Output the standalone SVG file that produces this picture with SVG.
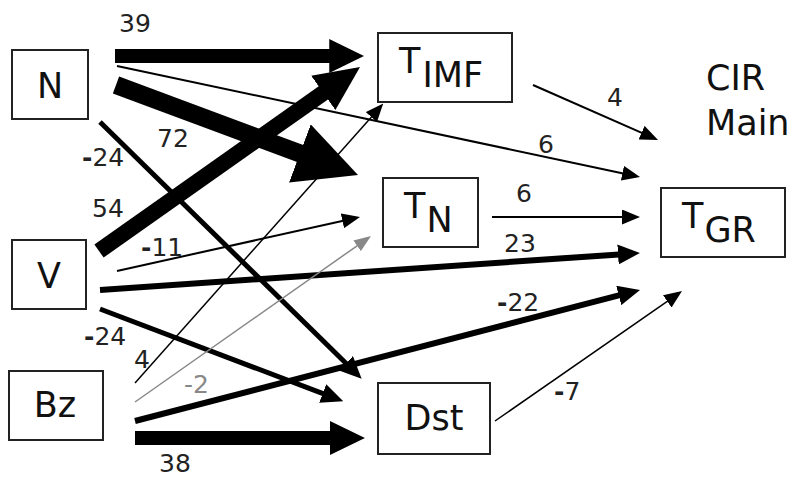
<svg xmlns="http://www.w3.org/2000/svg" width="792" height="478" viewBox="0 0 792 478">
<style>
.box{fill:#fff;stroke:#222;stroke-width:2}
.lbl{font-family:"DejaVu Sans",Verdana,sans-serif;font-size:35px;fill:#111}
.num{font-family:"DejaVu Sans",Verdana,sans-serif;font-size:25px;fill:#222}
.e{stroke:#000;fill:none}
.m{font-weight:bold}
</style>
<defs>
<marker id="as" viewBox="0 0 10 10" refX="0.5" refY="5" markerWidth="18" markerHeight="15" markerUnits="userSpaceOnUse" orient="auto" preserveAspectRatio="none"><path d="M0,0L10,5L0,10z" fill="#000"/></marker>
<marker id="ag" viewBox="0 0 10 10" refX="0.5" refY="5" markerWidth="17" markerHeight="13" markerUnits="userSpaceOnUse" orient="auto" preserveAspectRatio="none"><path d="M0,0L10,5L0,10z" fill="#888"/></marker>
<marker id="am" viewBox="0 0 10 10" refX="0.5" refY="5" markerWidth="22" markerHeight="20" markerUnits="userSpaceOnUse" orient="auto" preserveAspectRatio="none"><path d="M0,0L10,5L0,10z" fill="#000"/></marker>
<marker id="al" viewBox="0 0 10 10" refX="0.5" refY="5" markerWidth="35" markerHeight="34" markerUnits="userSpaceOnUse" orient="auto" preserveAspectRatio="none"><path d="M0,0L10,5L0,10z" fill="#000"/></marker>
<marker id="a54" viewBox="0 0 10 10" refX="0.5" refY="5" markerWidth="45" markerHeight="42" markerUnits="userSpaceOnUse" orient="auto" preserveAspectRatio="none"><path d="M0,0L10,5L0,10z" fill="#000"/></marker>
<marker id="axl" viewBox="0 0 10 10" refX="0.5" refY="5" markerWidth="62" markerHeight="62" markerUnits="userSpaceOnUse" orient="auto" preserveAspectRatio="none"><path d="M0,0L10,5L0,10z" fill="#000"/></marker>
</defs>
<rect width="792" height="478" fill="#fff"/>
<g id="connectors">
<line class="e" x1="115" y1="56" x2="331" y2="56" stroke-width="14" marker-end="url(#al)"/>
<line class="e" x1="117" y1="66" x2="623.3" y2="173.4" stroke-width="2" marker-end="url(#as)"/>
<line class="e" x1="116" y1="85" x2="302.8" y2="154.5" stroke-width="18" marker-end="url(#axl)"/>
<line class="e" x1="100" y1="122" x2="346.7" y2="364" stroke-width="5" marker-end="url(#am)"/>
<line class="e" x1="99" y1="251" x2="325.1" y2="91.6" stroke-width="16" marker-end="url(#a54)"/>
<line class="e" x1="117" y1="271" x2="343.3" y2="220.7" stroke-width="2" marker-end="url(#as)"/>
<line class="e" x1="100" y1="290" x2="619.1" y2="254.4" stroke-width="6" marker-end="url(#am)"/>
<line class="e" x1="100" y1="309" x2="323.7" y2="393.9" stroke-width="5" marker-end="url(#am)"/>
<line class="e" x1="135" y1="383" x2="371.9" y2="116.4" stroke-width="1.5" marker-end="url(#as)"/>
<line class="e" x1="135" y1="402" x2="357.8" y2="245.3" stroke-width="1.5" style="stroke:#888" marker-end="url(#ag)"/>
<line class="e" x1="135" y1="421" x2="619.8" y2="295.2" stroke-width="6" marker-end="url(#am)"/>
<line class="e" x1="135" y1="438" x2="331.7" y2="438" stroke-width="14" marker-end="url(#al)"/>
<line class="e" x1="533" y1="85" x2="642.4" y2="133.1" stroke-width="2" marker-end="url(#as)"/>
<line class="e" x1="492" y1="217" x2="622.9" y2="217" stroke-width="2" marker-end="url(#as)"/>
<line class="e" x1="495" y1="421" x2="668" y2="300.8" stroke-width="1.5" marker-end="url(#as)"/>
</g>
<g id="edge-labels">
<text class="num" x="119" y="32">39</text>
<text class="num" x="157" y="147">72</text>
<text class="num" x="82" y="166"><tspan class="m">-</tspan>24</text>
<text class="num" x="92" y="217">54</text>
<text class="num" x="141" y="256"><tspan class="m">-</tspan>11</text>
<text class="num" x="84" y="345"><tspan class="m">-</tspan>24</text>
<text class="num" x="134" y="368">4</text>
<text class="num" x="184" y="393" style="fill:#888">-2</text>
<text class="num" x="159" y="472">38</text>
<text class="num" x="607" y="106">4</text>
<text class="num" x="538" y="153">6</text>
<text class="num" x="516" y="202">6</text>
<text class="num" x="504" y="252">23</text>
<text class="num" x="497" y="311"><tspan class="m">-</tspan>22</text>
<text class="num" x="554" y="400"><tspan class="m">-</tspan>7</text>
</g>
<g id="node-N"><rect class="box" x="12" y="50" width="76" height="69"/><text class="lbl" x="50" y="98" text-anchor="middle">N</text></g>
<g id="node-V"><rect class="box" x="12" y="240" width="74" height="69"/><text class="lbl" x="49" y="288" text-anchor="middle">V</text></g>
<g id="node-Bz"><rect class="box" x="9" y="371" width="94" height="69"/><text class="lbl" x="55" y="417" text-anchor="middle">Bz</text></g>
<g id="node-TIMF"><rect class="box" x="378" y="33" width="134" height="69"/><text class="lbl" x="399" y="73">T<tspan dx="2" dy="14">IMF</tspan></text></g>
<g id="node-TN"><rect class="box" x="383" y="178" width="95" height="69"/><text class="lbl" x="404" y="218">T<tspan dx="1" dy="14">N</tspan></text></g>
<g id="node-TGR"><rect class="box" x="661" y="188" width="124" height="69"/><text class="lbl" x="682" y="228">T<tspan dx="1" dy="14">GR</tspan></text></g>
<g id="node-Dst"><rect class="box" x="378" y="383" width="112" height="71"/><text class="lbl" x="434" y="430" text-anchor="middle">Dst</text></g>
<g id="title"><text class="lbl" x="706" y="90">CIR</text><text class="lbl" x="706" y="135">Main</text></g>
</svg>
